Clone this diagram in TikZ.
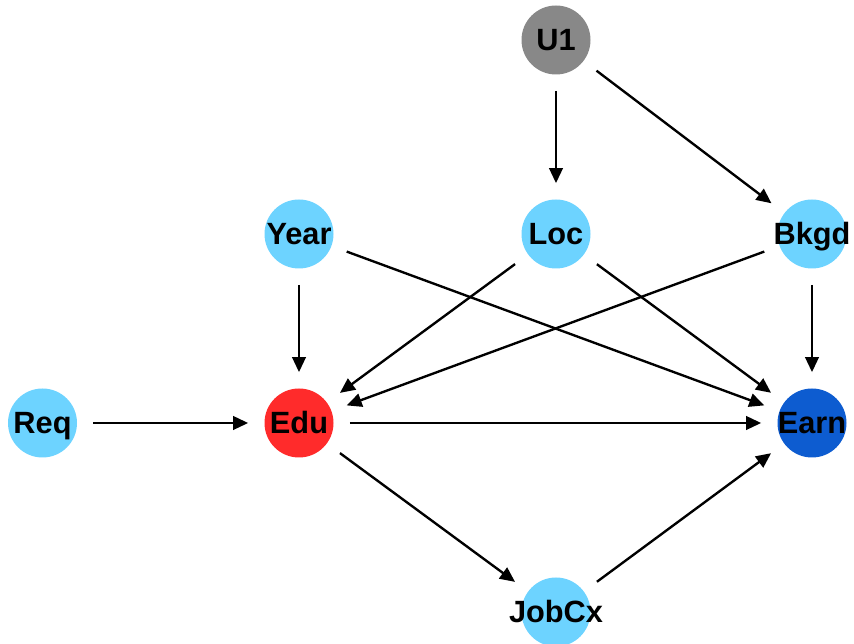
\documentclass[tikz,border=0pt]{standalone}
\usepackage{fontspec}
\setmainfont{Liberation Sans}
\usepackage{xcolor}
\usetikzlibrary{arrows.meta}
\definecolor{nodeblue}{HTML}{6DD3FF}
\definecolor{expred}{HTML}{FF2B2B}
\definecolor{outblue}{HTML}{0D5CD0}
\definecolor{latgray}{HTML}{888888}

\begin{document}
\begin{tikzpicture}[
    dagnode/.style={circle, minimum size=1.38cm, inner sep=0pt,
      text height=0.44cm, text depth=0pt,
      font=\fontsize{17.5}{20}\selectfont\bfseries, fill=nodeblue},
    edge/.style={-{Triangle[length=0.3cm, width=0.27cm]}, line width=1.35pt,
      shorten <=0.32cm, shorten >=0.32cm}
  ]
  \useasboundingbox (0,0) rectangle (17.08,12.88);

  % Nodes
  \node[dagnode, fill=latgray] (u1) at (11.12,12.08) {\makebox[0pt]{U1}};
  \node[dagnode] (year) at (5.98,8.20) {\makebox[0pt]{Year}};
  \node[dagnode] (loc) at (11.12,8.20) {\makebox[0pt]{Loc}};
  \node[dagnode] (bkgd) at (16.24,8.20) {\makebox[0pt]{Bkgd}};
  \node[dagnode] (req) at (0.85,4.42) {\makebox[0pt]{Req}};
  \node[dagnode, fill=expred] (edu) at (5.98,4.42) {\makebox[0pt]{Edu}};
  \node[dagnode, fill=outblue] (earn) at (16.24,4.42) {\makebox[0pt]{Earn}};
  \node[dagnode] (jobcx) at (11.12,0.64) {\makebox[0pt]{JobCx}};

  % Edges
  \draw[edge] (u1) -- (loc);
  \draw[edge] (u1) -- (bkgd);
  \draw[edge] (year) -- (edu);
  \draw[edge] (year) -- (earn);
  \draw[edge] (loc) -- (edu);
  \draw[edge] (loc) -- (earn);
  \draw[edge] (bkgd) -- (edu);
  \draw[edge] (bkgd) -- (earn);
  \draw[edge] (req) -- (edu);
  \draw[edge] (edu) -- (earn);
  \draw[edge] (edu) -- (jobcx);
  \draw[edge] (jobcx) -- (earn);
\end{tikzpicture}
\end{document}
